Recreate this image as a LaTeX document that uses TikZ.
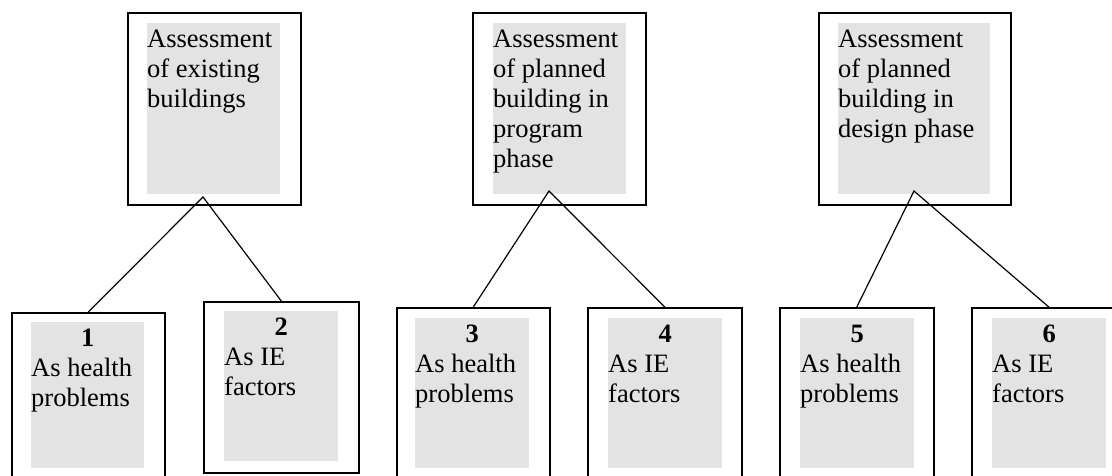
\documentclass[tikz,border=0pt]{standalone}
\usepackage{fontspec}
\setmainfont{Liberation Serif}
\usepackage{xcolor}
\usepackage{tikz}
\usetikzlibrary{positioning}
\definecolor{panelgray}{RGB}{227,227,227}
\newcommand{\paneltext}[3]{\parbox[t][#1][t]{#2}{#3}}

\begin{document}
\begin{tikzpicture}[x=1pt, y=-1pt,
    frame/.style={draw, line width=1.6pt, anchor=north west, inner sep=0pt},
    panel/.style={fill=panelgray, anchor=north west, inner xsep=0pt, inner ysep=7pt, font=\fontsize{26.5}{30}\selectfont},
    link/.style={line width=1.2pt}]
            \useasboundingbox (0,0) rectangle (1112,475);
            \clip (0,0) rectangle (1112,475);

            % Assessment boxes
            \node[frame, minimum width=173pt, minimum height=192pt] (t1) at (127,12) {};
            \node[frame, minimum width=173pt, minimum height=192pt] (t2) at (472,12) {};
            \node[frame, minimum width=192pt, minimum height=192pt] (t3) at (818,12) {};
            \node[panel] (p1) at (147,23) {\paneltext{157pt}{133pt}{Assessment\\of existing\\buildings}};
            \node[panel] (p2) at (493,23) {\paneltext{157pt}{133pt}{Assessment\\of planned\\building in\\program\\phase}};
            \node[panel] (p3) at (838,23) {\paneltext{157pt}{152pt}{Assessment\\of planned\\building in\\design phase}};

            % Sub-boxes
            \node[frame, minimum width=153pt, minimum height=200pt] (b1) at (11,312) {};
            \node[frame, minimum width=155pt, minimum height=171pt] (b2) at (203,301) {};
            \node[frame, minimum width=153pt, minimum height=200pt] (b3) at (396,307) {};
            \node[frame, minimum width=154pt, minimum height=200pt] (b4) at (587,307) {};
            \node[frame, minimum width=154pt, minimum height=200pt] (b5) at (779,307) {};
            \node[frame, minimum width=154pt, minimum height=200pt] (b6) at (971,307) {};
            \node[panel] (q1) at (31,322) {\paneltext{132pt}{113pt}{{\centering\textbf{1}\par}As health\\problems}};
            \node[panel] (q2) at (224,311) {\paneltext{136pt}{114pt}{{\centering\textbf{2}\par}As IE\\factors}};
            \node[panel] (q3) at (415,318) {\paneltext{136pt}{114pt}{{\centering\textbf{3}\par}As health\\problems}};
            \node[panel] (q4) at (608,318) {\paneltext{136pt}{114pt}{{\centering\textbf{4}\par}As IE\\factors}};
            \node[panel] (q5) at (800,318) {\paneltext{136pt}{114pt}{{\centering\textbf{5}\par}As health\\problems}};
            \node[panel] (q6) at (992,318) {\paneltext{136pt}{114pt}{{\centering\textbf{6}\par}As IE\\factors}};

            % Links
            \coordinate (a1) at (203,197);
            \coordinate (a2) at (549,191);
            \coordinate (a3) at (914,191);
            \draw[link] (b1.north) -- (a1) -- (b2.north);
            \draw[link] (b3.north) -- (a2) -- (b4.north);
            \draw[link] (b5.north) -- (a3) -- (b6.north);
        \end{tikzpicture}
\end{document}
